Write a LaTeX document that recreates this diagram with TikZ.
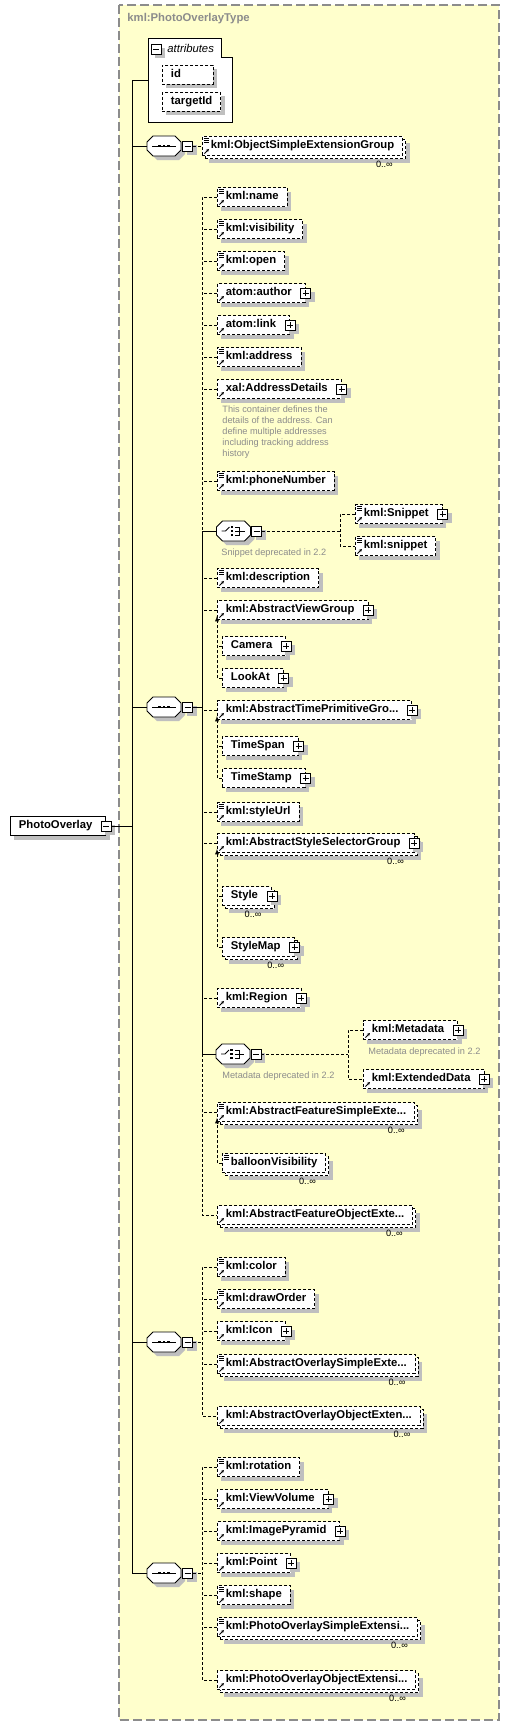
\documentclass[tikz,border=0pt]{standalone}
\usepackage{fontspec}
\setmainfont{Liberation Sans}
\usetikzlibrary{shadows,arrows.meta}
\definecolor{paper}{RGB}{255,255,204}
\definecolor{notecol}{RGB}{140,140,140}
\newcommand\elf{\bfseries\fontsize{11.3}{13}\selectfont}
\newcommand\notef{\fontsize{9.2}{11}\selectfont}
\newcommand\lineicon{\foreach \d in {2,4,6}
  \draw[solid,line width=.7pt] ([xshift=1.5pt,yshift=-\d pt]path picture bounding box.north west) -- ++(5,0);}
\newcommand\refericon{\draw[solid,line width=.9pt,-{Stealth[length=3pt,width=3pt]}]
  ([xshift=2pt,yshift=2pt]path picture bounding box.south west) -- ++(4.5,-4.5);}
\newcommand\octagon{\draw[fill=white,sh] (-17,-4) -- (-11,-10) -- (11,-10) -- (17,-4)
  -- (17,4) -- (11,10) -- (-11,10) -- (-17,4) -- cycle;}
\tikzset{>=latex}
\tikzset{
  dsh/.style={dash pattern=on 3pt off 2pt},
  sh/.style={general shadow={fill=black!25,shadow xshift=4pt,shadow yshift=-4pt}},
  el/.style={draw,dsh,fill=white,font=\elf,minimum height=19pt,inner xsep=8.5pt,
    inner ysep=0pt,text height=8.2pt,text depth=2.3pt,anchor=west},
  one/.style={el,sh},
  many/.style={el,general shadow={fill=black!25,shadow xshift=7pt,shadow yshift=-7pt},
    general shadow={draw,dsh,fill=white,shadow xshift=3pt,shadow yshift=-3pt}},
  simref/.style={path picture={\lineicon\refericon}},
  simp/.style={path picture={\lineicon}},
  refd/.style={path picture={\refericon}},
  pl/.style={execute at end node={\kern5pt}},
  mbox/.style={draw,solid,fill=white,minimum size=10pt,inner sep=0pt,line width=.8pt,sh,
    path picture={\draw[line width=.8pt] ([xshift=2pt]path picture bounding box.west)
      -- ([xshift=-2pt]path picture bounding box.east);}},
  pbox/.style={mbox,path picture={\draw[line width=.8pt] ([xshift=2pt]path picture bounding box.west)
      -- ([xshift=-2pt]path picture bounding box.east)
      ([yshift=-2pt]path picture bounding box.north) -- ([yshift=2pt]path picture bounding box.south);}},
  mult/.style={font=\notef,anchor=north east,inner sep=0pt},
  note/.style={font=\notef,text=notecol,anchor=west,inner sep=0pt},
  seqsym/.pic={\octagon \draw (-12,0) -- (12,0);
    \foreach \d in {-4.5,0,4.5} \fill (\d-1.2,-1.2) rectangle ++(2.4,2.4);
    \coordinate (-w) at (-17,0); \node[mbox] (-m) at (23.5,0) {};},
  choicesym/.pic={\octagon \draw (-12,0) -- (-8,0) -- (-4,-4);
    \foreach \d in {-4,0,4} \fill (-2.6,\d-1.2) rectangle ++(2.4,2.4);
    \draw (1.5,-4) -- (6,-4) -- (6,4) -- (1.5,4) (1.5,0) -- (11,0);
    \coordinate (-w) at (-17,0); \node[mbox] (-m) at (23,0) {};}
}

\begin{document}
\begin{tikzpicture}[x=1pt,y=-1pt,line width=.9pt]
\useasboundingbox (0,0) rectangle (510,1726);
\fill[white] (0,0) rectangle (510,1726);
\draw[draw=notecol,line width=1.2pt,dash pattern=on 9pt off 4pt,fill=paper] (119,5) rectangle (499,1720);
\node[font=\elf,text=notecol,anchor=west,inner sep=0pt] (title) at (127,19) {kml:PhotoOverlayType};

% attributes
\draw[fill=white] (148,38) -- (221,38) -- (221,57) -- (232,57) -- (232,122) -- (148,122) -- cycle;
\coordinate (attr) at (148,80);
\node[mbox] (attrm) at (156,49) {};
\node[font=\itshape\fontsize{11.3}{13}\selectfont,anchor=west,inner sep=0pt] (attrt) at (167,48) {attributes};
\node[one,text width=34pt] (id) at (162,74.5) {id};
\node[one] (tid) at (162,102) {targetId};

% root element
\node[one,solid,pl] (root) at (10,826) {PhotoOverlay};
\node[mbox] (rootm) at (root.east) {};

% sequences
\pic (s1) at (164,146) {seqsym};
\pic (s2) at (164,707) {seqsym};
\pic (s3) at (164,1342) {seqsym};
\pic (s4) at (164,1573) {seqsym};
\coordinate (trunk) at (132,0);
\coordinate (inner) at (202,0);
\draw (attr) -- (attr -| trunk) |- (s4-w);
\foreach \s in {s1,s2,s3} \draw (\s-w) -- (\s-w -| trunk);
\draw (rootm.east) -- (rootm.east -| trunk);

% sequence 1
\node[many,simref] (osg) at (202,146) {kml:ObjectSimpleExtensionGroup};
\draw[dsh] (s1-m.east) -- (osg.west);

% sequence 2
\node[one,simref] (name) at (217,197) {kml:name};
\node[one,simref] (visibility) at (217,229) {kml:visibility};
\node[one,simref] (open) at (217,261) {kml:open};
\node[one,refd,pl] (author) at (217,293) {atom:author};
\node[one,refd,pl] (link) at (217,325) {atom:link};
\node[one,simref] (address) at (217,357) {kml:address};
\node[one,refd,pl] (addrdet) at (217,389) {xal:AddressDetails};
\node[note,anchor=north west,align=left] (addrn) at (222,405.5) {This container defines the\\details of the address. Can\\define multiple addresses\\including tracking address\\history};
\node[one,simref] (phone) at (217,481) {kml:phoneNumber};
\pic (ch1) at (233.5,531) {choicesym};
\node[note] (ch1n) at (221,553) {Snippet deprecated in 2.2};
\node[one,simref,pl] (snipA) at (355,514) {kml:Snippet};
\node[one,simref] (snipB) at (355,546) {kml:snippet};
\node[one,simref] (description) at (217,578) {kml:description};
\node[one,refd,pl] (viewgrp) at (217,610) {kml:AbstractViewGroup};
\node[one,pl] (camera) at (222,646) {Camera};
\node[one,pl] (lookat) at (222,678) {LookAt};
\node[one,refd,pl] (timeprim) at (217,710) {kml:AbstractTimePrimitiveGro...};
\node[one,pl] (timespan) at (222,746) {TimeSpan};
\node[one,pl] (timestamp) at (222,778) {TimeStamp};
\node[one,simref] (styleurl) at (217,812) {kml:styleUrl};
\node[many,refd,pl] (stylesel) at (217,843) {kml:AbstractStyleSelectorGroup};
\node[many,pl] (kstyle) at (222,896) {Style};
\node[many,pl] (stylemap) at (222,947) {StyleMap};
\node[one,refd,pl] (region) at (217,998) {kml:Region};
\pic (ch2) at (233,1054) {choicesym};
\node[note] (ch2n) at (222,1076) {Metadata deprecated in 2.2};
\node[one,refd,pl] (metadata) at (363,1030) {kml:Metadata};
\node[note] (metan) at (368,1052) {Metadata deprecated in 2.2};
\node[one,refd,pl] (extdata) at (363,1079) {kml:ExtendedData};
\node[many,simref] (featsimple) at (217,1112) {kml:AbstractFeatureSimpleExte...};
\node[many,simp] (balloon) at (222,1163) {balloonVisibility};
\node[many,refd] (featobj) at (217,1215) {kml:AbstractFeatureObjectExte...};

\draw (s2-m.east) -- (s2-m.east -| inner);
\draw[dsh] (name.west) -| (inner |- ch1-w);
\draw (inner |- ch1-w) -- (inner |- ch2-w);
\draw[dsh] (inner |- ch2-w) |- (featobj.west);
\foreach \n in {visibility,open,author,link,address,addrdet,phone,description,viewgrp,timeprim,styleurl,stylesel,region,featsimple}
  \draw[dsh] (\n.west) -- (\n.west -| inner);
\foreach \c in {ch1,ch2} \draw (\c-w) -- (\c-w -| inner);

% choices
\coordinate (c1) at (340,0);
\coordinate (c2) at (348,0);
\draw[dsh] (ch1-m.east) -- (ch1-m.east -| c1);
\draw[dsh] (snipA.west) -| (c1 |- snipB.west) -- (snipB.west);
\draw[dsh] (ch2-m.east) -- (ch2-m.east -| c2);
\draw[dsh] (metadata.west) -| (c2 |- extdata.west) -- (extdata.west);

% substitution groups
\draw[dsh,->,shorten >=-4pt] (lookat.west) -| (viewgrp.south west);
\draw[dsh] (camera.west) -- (camera.west -| viewgrp.west);
\draw[dsh,->,shorten >=-4pt] (timestamp.west) -| (timeprim.south west);
\draw[dsh] (timespan.west) -- (timespan.west -| timeprim.west);
\draw[dsh,->,shorten >=-4pt] (stylemap.west) -| (stylesel.south west);
\draw[dsh] (kstyle.west) -- (kstyle.west -| stylesel.west);
\draw[dsh,->,shorten >=-4pt] (balloon.west) -| (featsimple.south west);

% sequence 3
\node[one,simref] (kcolor) at (217,1267) {kml:color};
\node[one,simref] (draworder) at (217,1299) {kml:drawOrder};
\node[one,refd,pl] (icon) at (217,1331) {kml:Icon};
\node[many,simref] (ovsimple) at (217,1364) {kml:AbstractOverlaySimpleExte...};
\node[many,refd] (ovobj) at (217,1416) {kml:AbstractOverlayObjectExten...};
\draw[dsh] (s3-m.east) -- (s3-m.east -| inner);
\draw[dsh] (kcolor.west) -| (inner |- ovobj.west) -- (ovobj.west);
\foreach \n in {draworder,icon,ovsimple} \draw[dsh] (\n.west) -- (\n.west -| inner);

% sequence 4
\node[one,simref] (rotation) at (217,1467) {kml:rotation};
\node[one,refd,pl] (viewvol) at (217,1499) {kml:ViewVolume};
\node[one,refd,pl] (imgpyr) at (217,1531) {kml:ImagePyramid};
\node[one,refd,pl] (point) at (217,1563) {kml:Point};
\node[one,simref] (kshape) at (217,1595) {kml:shape};
\node[many,simref] (posimple) at (217,1627) {kml:PhotoOverlaySimpleExtensi...};
\node[many,refd] (poobj) at (217,1680) {kml:PhotoOverlayObjectExtensi...};
\draw[dsh] (s4-m.east) -- (s4-m.east -| inner);
\draw[dsh] (rotation.west) -| (inner |- poobj.west) -- (poobj.west);
\foreach \n in {viewvol,imgpyr,point,kshape,posimple} \draw[dsh] (\n.west) -- (\n.west -| inner);

% plus boxes and multiplicities
\foreach \n in {author,link,addrdet,snipA,viewgrp,camera,lookat,timeprim,timespan,timestamp,stylesel,kstyle,stylemap,region,metadata,extdata,icon,viewvol,imgpyr,point}
  \node[pbox] (\n-p) at (\n.east) {};
\foreach \n in {osg,stylesel,kstyle,stylemap,featsimple,balloon,featobj,ovsimple,ovobj,posimple,poobj}
  \node[mult] (\n-n) at ([xshift=-10pt,yshift=-5pt]\n.south east) {0..∞};
\end{tikzpicture}
\end{document}
